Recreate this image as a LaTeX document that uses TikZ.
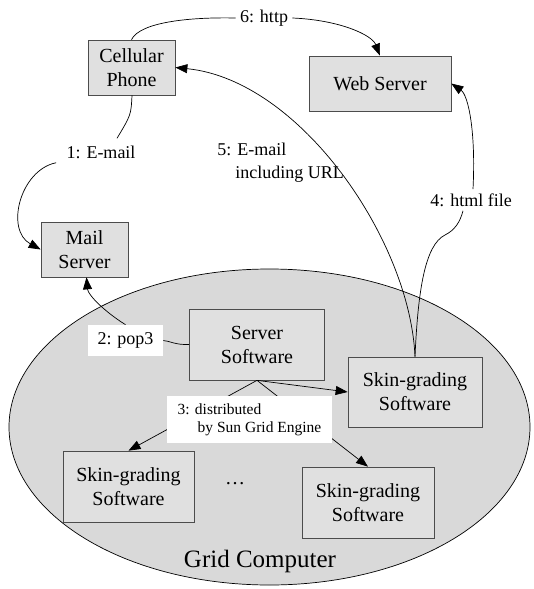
\documentclass[tikz,border=0pt]{standalone}
\usepackage{fontspec}
\setmainfont{Liberation Serif}
\usetikzlibrary{arrows.meta}

\begin{document}
\begin{tikzpicture}[x=1pt,y=-1pt,line width=0.7pt,
    >={Triangle[length=12pt,width=9pt]},
    box/.style={draw=black!70,fill=black!12,align=center,inner sep=0pt,
      minimum width=#1,minimum height=55pt,font=\fontsize{20}{24}\selectfont},
    lbl/.style={inner sep=4pt,align=left,font=\fontsize{18}{23}\selectfont},
    tag/.style={fill=white,inner sep=0pt,align=left}]
    \useasboundingbox (0,0) rectangle (533,589);
    % grid computer
    \draw[fill=black!15] (269.5,427) ellipse [x radius=260.5pt,y radius=158pt];
    \node[font=\fontsize{25}{30}\selectfont] (grid) at (260,561) {Grid Computer};
    % boxes
    \node[box=87pt] (phone) at (131.5,67.5) {Cellular\\Phone};
    \node[box=142pt] (web) at (380,83.5) {Web Server};
    \node[box=87pt] (mail) at (84.5,249.5) {Mail\\Server};
    \node[box=135pt,minimum height=71pt] (server) at (257,344.5) {Server\\Software};
    \node[box=134pt,minimum height=70pt] (skinA) at (415,392) {Skin-grading\\Software};
    \node[box=131pt,minimum height=71pt] (skinB) at (128.5,486.5) {Skin-grading\\Software};
    \node[box=132pt,minimum height=71pt] (skinC) at (368,502.5) {Skin-grading\\Software};
    \node[font=\fontsize{20}{24}\selectfont] (dots) at (235,484) {\dots};
    % labels
    \node[lbl] (l6) at (264,18) {6: http};
    \node[lbl] (l1) at (101,152) {1: E-mail};
    \node[lbl,inner sep=0pt,anchor=west] (l5) at (217,163) {5: E-mail\\\hspace*{18pt}including URL};
    \node[lbl] (l4) at (471,200) {4: html file};
    \node[tag,minimum width=75pt,minimum height=31pt,font=\fontsize{18}{23}\selectfont] (l2) at (125.5,340.5) {2: pop3};
    % connectors
    \draw (phone.north) .. controls (140,22) and (190,17) .. (l6.west);
    \draw[->] (l6.east) .. controls (340,20) and (372,35) .. (web.north);
    \draw ([xshift=0.5pt]phone.south) .. controls (131,115) .. ([xshift=16pt,yshift=3pt]l1.north);
    \draw[->] ([xshift=-6pt]l1.south west) .. controls (20,170) and (5,230) .. (mail.west);
    \draw (server.west) .. controls (175,345) and (170,341) .. (l2.east);
    \draw[->] (l2.north) .. controls (105,312) and (88,295) .. ([xshift=2pt]mail.south);
    \draw[->] (skinA.north) .. controls (410,240) and (300,80) .. (phone.east);
    \draw (skinA.north) .. controls (418,290) and (425,245) .. (445,235)
      .. controls (455,230) and (460,222) .. ([xshift=-8pt]l4.south);
    \draw[->] ([xshift=2pt]l4.north) .. controls (476,130) and (468,95) .. (web.east);
    \foreach \t/\a in {skinA/west,skinB/north,skinC/north}\draw[->] (server.south) -- (\t.\a);
    \node[tag,minimum width=165pt,minimum height=47pt,font=\fontsize{15.5}{18}\selectfont]
      (l3) at (249.5,419.5) {3: distributed\\\hspace*{20pt}by Sun Grid Engine};
  \end{tikzpicture}
\end{document}
